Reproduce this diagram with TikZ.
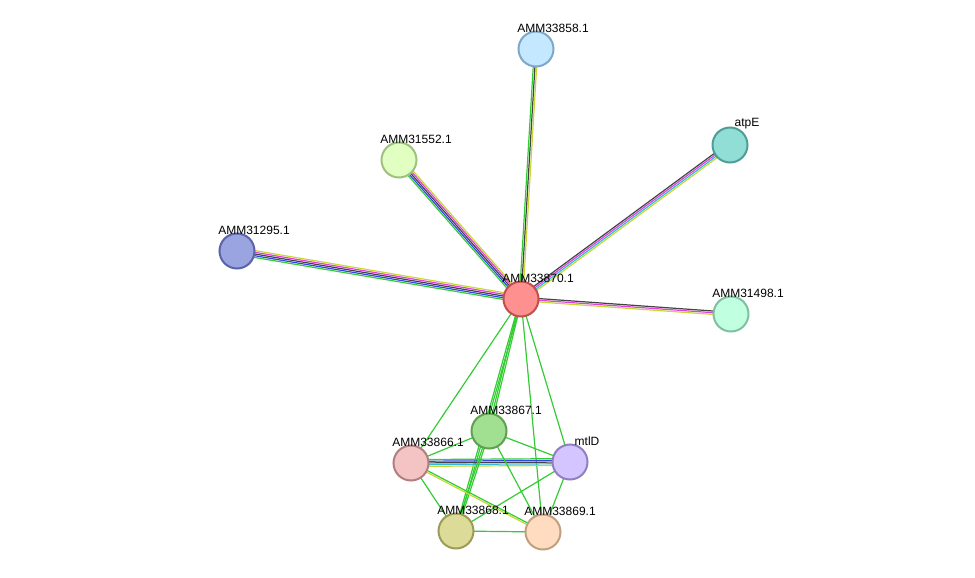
\documentclass[tikz,border=0pt]{standalone}
\usepackage{fontspec}
\setmainfont{Liberation Sans}
\usetikzlibrary{calc,backgrounds}
\definecolor{lgreen}{HTML}{33CC33}
\definecolor{lyellow}{HTML}{C8D832}
\definecolor{lmagenta}{HTML}{E040E0}
\definecolor{lblue}{HTML}{3344EE}
\definecolor{lcyan}{HTML}{33BBDD}
\definecolor{lblack}{HTML}{444444}
\tikzstyle{protein}=[circle, draw, line width=2pt, minimum size=35pt, inner sep=0pt]
\tikzstyle{tag}=[label={[anchor=west, font=\fontsize{12}{14}\selectfont, inner sep=0pt, xshift=17pt, yshift=21pt]center:#1}]
\newcommand{\multilink}[4]{%
  \foreach \c [count=\i] in {#4} {
    \pgfmathsetmacro{\off}{(\i-1-(#3-1)/2)*1.7}
    \draw[\c, line width=1.2pt] ($(#1)!\off pt!90:(#2)$) -- ($(#2)!\off pt!-90:(#1)$);
  }}

\begin{document}
\begin{tikzpicture}[x=1pt, y=-1pt]
        \useasboundingbox (0,0) rectangle (975,578);
        \node[protein, fill={rgb,255:red,255;green,144;blue,144}, draw={rgb,255:red,192;green,80;blue,80}, tag=AMM33870.1] (center) at (521,299) {};
        \node[protein, fill={rgb,255:red,196;green,232;blue,255}, draw={rgb,255:red,127;green,168;blue,200}, tag=AMM33858.1] (p58) at (536,49) {};
        \node[protein, fill={rgb,255:red,144;green,222;blue,214}, draw={rgb,255:red,76;green,158;blue,150}, tag=atpE] (atpE) at (730,145) {};
        \node[protein, fill={rgb,255:red,224;green,255;blue,192}, draw={rgb,255:red,160;green,192;blue,128}, tag=AMM31552.1] (p52) at (399,160) {};
        \node[protein, fill={rgb,255:red,154;green,164;blue,224}, draw={rgb,255:red,90;green,100;blue,168}, tag=AMM31295.1] (p95) at (237,251) {};
        \node[protein, fill={rgb,255:red,192;green,255;blue,224}, draw={rgb,255:red,128;green,192;blue,160}, tag=AMM31498.1] (p98) at (731,314) {};
        \node[protein, fill={rgb,255:red,160;green,224;blue,144}, draw={rgb,255:red,96;green,160;blue,80}, tag=AMM33867.1] (p67) at (489,431) {};
        \node[protein, fill={rgb,255:red,244;green,196;blue,196}, draw={rgb,255:red,176;green,128;blue,128}, tag=AMM33866.1] (p66) at (411,463) {};
        \node[protein, fill={rgb,255:red,212;green,196;blue,255}, draw={rgb,255:red,144;green,128;blue,192}, tag=mtlD] (mtlD) at (570,462) {};
        \node[protein, fill={rgb,255:red,220;green,220;blue,152}, draw={rgb,255:red,156;green,156;blue,88}, tag=AMM33868.1] (p68) at (456,531) {};
        \node[protein, fill={rgb,255:red,255;green,220;blue,192}, draw={rgb,255:red,192;green,160;blue,128}, tag=AMM33869.1] (p69) at (543,532) {};
        \begin{scope}[on background layer]
        % evidence lines around the hub
        \multilink{center}{p58}{3}{lyellow,lblack,lgreen}
        \multilink{center}{atpE}{4}{lyellow,lcyan,lmagenta,lblack}
        \multilink{center}{p52}{5}{lyellow,lmagenta,lblack,lblue,lgreen}
        \multilink{center}{p95}{5}{lyellow,lmagenta,lblack,lblue,lgreen}
        \multilink{center}{p98}{3}{lyellow,lmagenta,lblack}
        \multilink{center}{p67}{2}{lgreen,lgreen}
        \multilink{center}{p66}{1}{lgreen}
        \multilink{center}{mtlD}{1}{lgreen}
        \multilink{center}{p68}{2}{lgreen,lgreen}
        \multilink{center}{p69}{1}{lgreen}
        % lower cluster
        \multilink{p66}{mtlD}{5}{lyellow,lcyan,lblack,lblue,lgreen}
        \multilink{p66}{p67}{1}{lgreen}
        \multilink{p67}{mtlD}{1}{lgreen}
        \multilink{p67}{p68}{2}{lgreen,lgreen}
        \multilink{p67}{p69}{1}{lgreen}
        \multilink{p66}{p68}{1}{lgreen}
        \multilink{p66}{p69}{2}{lyellow,lgreen}
        \multilink{mtlD}{p68}{1}{lgreen}
        \multilink{mtlD}{p69}{1}{lgreen}
        \multilink{p68}{p69}{1}{lgreen}
        \end{scope}
    \end{tikzpicture}
\end{document}
